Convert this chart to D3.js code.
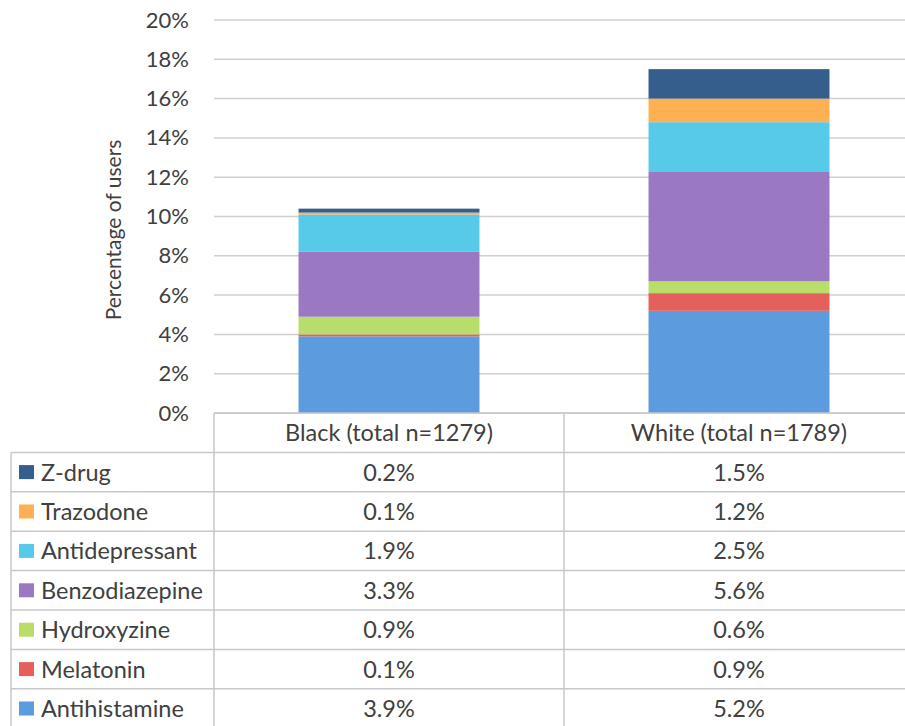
<!DOCTYPE html>
<html>
<head>
<meta charset="utf-8">
<script src="https://cdn.jsdelivr.net/npm/d3@7"></script>
<style>
  body { margin: 0; background: #fff; }
  svg { display: block; font-family: Lato, "Open Sans", sans-serif; }
</style>
</head>
<body>
<div id="chart"></div>
<script>
// données
const groups = ["Black (total n=1279)", "White (total n=1789)"];
const drugs = ["Antihistamine", "Melatonin", "Hydroxyzine", "Benzodiazepine", "Antidepressant", "Trazodone", "Z-drug"];
const blackValues = [3.9, 0.1, 0.9, 3.3, 1.9, 0.1, 0.2];
const whiteValues = [5.2, 0.9, 0.6, 5.6, 2.5, 1.2, 1.5];
const colors = ["#5b9bde", "#e5605c", "#b9dd6a", "#9a78c2", "#58cae9", "#feb052", "#355e8c"];
const yTicks = [0, 2, 4, 6, 8, 10, 12, 14, 16, 18, 20];

const width = 905, height = 726;
const plot = { left: 214, right: 914, top: 20, bottom: 413 };
const rowH = 39.4;
const tableLeft = 11;
const tableFont = 23.5;

const svg = d3.select("#chart").append("svg")
    .attr("width", width)
    .attr("height", height);

const x = d3.scaleBand()
    .domain(groups)
    .range([plot.left, plot.right])
    .paddingInner(0.483)
    .paddingOuter(0.2415);

const y = d3.scaleLinear()
    .domain([0, 20])
    .range([plot.bottom, plot.top]);

const color = d3.scaleOrdinal().domain(drugs).range(colors);

// grille
svg.append("g")
  .selectAll("line")
  .data(yTicks)
  .enter().append("line")
    .attr("x1", plot.left)
    .attr("x2", plot.right)
    .attr("y1", d => y(d))
    .attr("y2", d => y(d))
    .attr("stroke", "#d0d0d0")
    .attr("stroke-width", 1.5);

// axe y
const yAxis = d3.axisLeft(y).tickValues(yTicks).tickFormat(d => d + "%").tickSize(0).tickPadding(0);
const gy = svg.append("g")
    .attr("transform", "translate(189,0)")
    .call(yAxis);
gy.select(".domain").remove();
gy.selectAll("text")
    .attr("font-size", 22)
    .attr("fill", "#404040")
    .attr("font-family", "Lato, sans-serif");

svg.append("text")
    .attr("transform", "translate(121,230) rotate(-90)")
    .attr("text-anchor", "middle")
    .attr("font-size", 21)
    .attr("fill", "#404040")
    .text("Percentage of users");

// barres empilées
const table = groups.map((g, i) => {
    const row = { group: g };
    drugs.forEach((d, j) => { row[d] = (i === 0 ? blackValues : whiteValues)[j]; });
    return row;
});
const series = d3.stack().keys(drugs)(table);

svg.append("g")
  .selectAll("g")
  .data(series)
  .enter().append("g")
    .attr("fill", d => color(d.key))
  .selectAll("rect")
  .data(d => d)
  .enter().append("rect")
    .attr("x", d => x(d.data.group))
    .attr("width", x.bandwidth())
    .attr("y", d => y(d[1]))
    .attr("height", d => y(d[0]) - y(d[1]));

// tableau de données
const step = x.step();
const colEdges = [plot.left, plot.left + step, plot.left + 2 * step];
const tableTop = plot.bottom;
const tableRowsTop = tableTop + rowH;
const legendRows = drugs.slice().reverse();
const tableBottom = tableRowsTop + rowH * legendRows.length;

const lines = svg.append("g").attr("stroke", "#c8c8c8").attr("stroke-width", 1.5);
// lignes horizontales
lines.append("line").attr("x1", plot.left).attr("x2", plot.right).attr("y1", tableTop).attr("y2", tableTop);
legendRows.forEach((d, i) => {
    const yy = tableRowsTop + i * rowH;
    lines.append("line").attr("x1", tableLeft).attr("x2", plot.right).attr("y1", yy).attr("y2", yy);
});
lines.append("line").attr("x1", tableLeft).attr("x2", plot.right).attr("y1", tableBottom).attr("y2", tableBottom);
// lignes verticales
lines.append("line").attr("x1", tableLeft).attr("x2", tableLeft).attr("y1", tableRowsTop).attr("y2", tableBottom);
colEdges.forEach(cx => {
    lines.append("line").attr("x1", cx).attr("x2", cx).attr("y1", tableTop).attr("y2", tableBottom);
});

// en-têtes
svg.append("g")
  .selectAll("text")
  .data(groups)
  .enter().append("text")
    .attr("x", d => x(d) + x.bandwidth() / 2)
    .attr("y", tableTop + rowH / 2 + 8.5)
    .attr("text-anchor", "middle")
    .attr("font-size", tableFont)
    .attr("fill", "#404040")
    .text(d => d);

// lignes du tableau
const rowsG = svg.append("g")
  .selectAll("g")
  .data(legendRows)
  .enter().append("g")
    .attr("transform", (d, i) => "translate(0," + (tableRowsTop + i * rowH) + ")");

rowsG.append("rect")
    .attr("x", 19)
    .attr("y", rowH / 2 - 7)
    .attr("width", 15)
    .attr("height", 14)
    .attr("fill", d => color(d));

rowsG.append("text")
    .attr("x", 41)
    .attr("y", rowH / 2 + 8.5)
    .attr("font-size", tableFont)
    .attr("fill", "#404040")
    .text(d => d);

rowsG.each(function(d) {
    const j = drugs.indexOf(d);
    const vals = [blackValues[j], whiteValues[j]];
    d3.select(this).selectAll(".val")
      .data(vals)
      .enter().append("text")
        .attr("class", "val")
        .attr("x", (v, i) => x(groups[i]) + x.bandwidth() / 2)
        .attr("y", rowH / 2 + 8.5)
        .attr("text-anchor", "middle")
        .attr("font-size", tableFont)
        .attr("fill", "#404040")
        .text(v => v.toFixed(1) + "%");
});
</script>
</body>
</html>
